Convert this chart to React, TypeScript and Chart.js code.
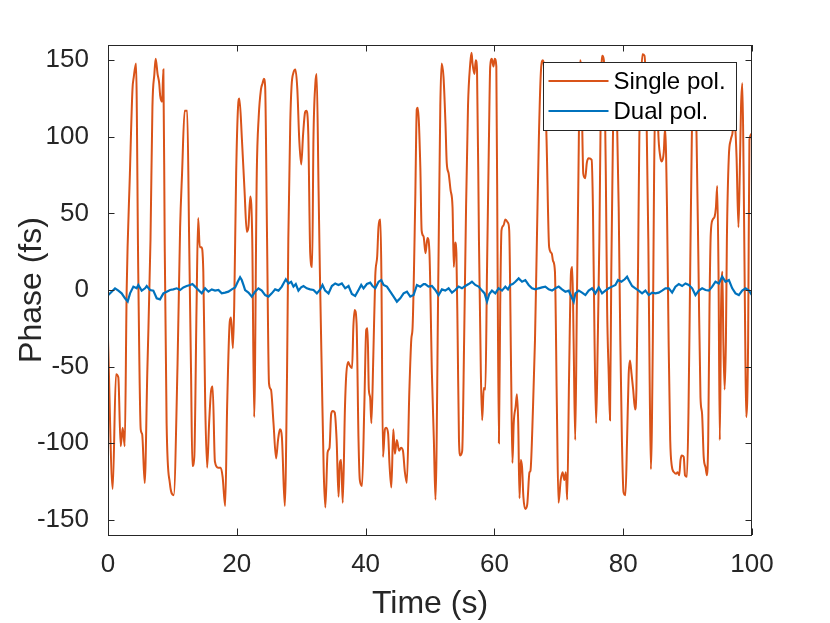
import { useEffect, useRef } from "react";
import { Chart, registerables } from "chart.js";
import type { Plugin } from "chart.js";

Chart.register(...registerables);

// [time (s), phase (fs)]
const singlePol: [number, number][] = [
  [0, -32], [0.73, -130], [1.24, -55], [1.6, -57], [1.97, -102], [2.28, -90], [2.6, -102], [2.9, 0],
  [3.4, 76], [3.8, 131], [4.0, 139], [4.35, 148], [4.7, 11], [5.08, -91], [5.3, -94], [5.7, -126],
  [6.1, -54], [6.6, 33], [6.9, 120], [7.2, 141], [7.4, 151], [7.7, 141], [7.95, 135], [8.1, 127],
  [8.4, 123], [8.6, 144], [8.8, 33], [9.1, -87], [9.6, -126], [10.2, -134], [10.8, -48], [11.2, 41],
  [11.5, 76], [11.9, 117], [12.3, 117], [12.6, 33], [12.9, -55], [13.1, -115], [13.4, -109], [13.75, -11],
  [14.0, 47], [14.25, 28], [14.5, 28], [14.8, 12], [15.1, -76], [15.4, -116], [15.7, -87], [16.0, -66],
  [16.25, -63], [16.6, -112], [17.1, -116], [17.5, -116], [17.8, -122], [18.2, -141], [18.5, -76], [18.9, -21],
  [19.1, -18], [19.4, -38], [19.6, -10], [19.9, 76], [20.2, 120], [20.4, 125], [20.8, 98], [21.2, 65],
  [21.55, 38], [21.8, 41], [22.1, 61], [22.4, 33], [22.7, -83], [23.1, 76], [23.4, 113], [23.75, 131],
  [24.0, 135], [24.2, 138], [24.4, 133], [24.7, 33], [25.0, -61], [25.3, -65], [25.7, -87], [26.1, -110],
  [26.4, -98], [26.7, -91], [27.0, -96], [27.45, -141], [27.8, -55], [28.0, 33], [28.3, 109], [28.5, 133],
  [28.8, 142], [29.1, 144], [29.4, 131], [29.7, 98], [30.0, 82], [30.3, 102], [30.6, 116], [30.8, 117],
  [31.1, 102], [31.4, 24], [31.7, 15], [31.9, 98], [32.2, 135], [32.4, 141], [32.7, 65], [32.9, 12],
  [33.2, -55], [33.5, -119], [33.75, -142], [34.1, -106], [34.4, -103], [34.65, -81], [34.9, -79], [35.2, -80],
  [35.5, -98], [35.8, -135], [36.0, -113], [36.2, -111], [36.45, -139], [36.8, -76], [37.0, -55], [37.3, -47],
  [37.5, -49], [37.9, -51], [38.1, -24], [38.3, -13], [38.6, -22], [38.9, -98], [39.1, -124], [39.45, -128],
  [39.8, -76], [40.1, -26], [40.3, -25], [40.5, -65], [40.7, -70], [40.9, -87], [41.2, -43], [41.5, 9],
  [41.8, 22], [42.0, 41], [42.3, 46], [42.45, 11], [42.7, -109], [43.0, -91], [43.2, -90], [43.5, -94],
  [43.7, -113], [44.0, -129], [44.3, -91], [44.55, -107], [44.85, -98], [45.2, -105], [45.5, -103], [45.8, -105],
  [46.1, -119], [46.4, -126], [46.8, -65], [47.1, -32], [47.3, -24], [47.7, 56], [47.95, 118], [48.1, 119],
  [48.5, 80], [48.7, 39], [49.0, 35], [49.3, 24], [49.6, 34], [49.9, 26], [50.3, -55], [50.6, -98],
  [50.85, -137], [51.3, 12], [51.6, 120], [51.8, 148], [52.1, 139], [52.4, 109], [52.6, 83], [52.9, 76],
  [53.2, 65], [53.5, 54], [53.7, 15], [53.9, 31], [54.1, 24], [54.3, -33], [54.5, -98], [54.7, -108],
  [55.0, -105], [55.3, -33], [55.6, 54], [55.9, 120], [56.25, 148], [56.45, 155], [56.6, 148], [56.9, 141],
  [57.1, 150], [57.3, 144], [57.6, 33], [57.9, -55], [58.1, -85], [58.35, -64], [58.6, -65], [58.85, 12],
  [59.15, 98], [59.35, 146], [59.6, 151], [59.85, 146], [60.05, 151], [60.3, 146], [60.5, 12], [60.7, -100],
  [60.9, -11], [61.1, 39], [61.4, 42], [61.7, 46], [62.1, 44], [62.3, 39], [62.6, -55], [62.8, -113],
  [63.0, -87], [63.3, -76], [63.5, -68], [63.7, -87], [63.9, -136], [64.1, -111], [64.3, -116], [64.5, -135],
  [64.8, -143], [65.1, -140], [65.45, -119], [65.6, -118], [66.0, -76], [66.3, -33], [66.6, 33], [66.9, 98],
  [67.2, 141], [67.5, 150], [67.8, 140], [68.1, 98], [68.5, 28], [68.9, 24], [69.1, 19], [69.4, 12],
  [69.7, -76], [69.95, -139], [70.3, -124], [70.6, -119], [70.85, -124], [71.1, -119], [71.3, -137], [71.6, -55],
  [71.9, 12], [72.1, 15], [72.3, -33], [72.55, -98], [72.8, -11], [73.05, 76], [73.3, 150], [73.5, 140],
  [73.8, 76], [74.1, 73], [74.35, 83], [74.65, 86], [75.1, 85], [75.3, 54], [75.55, -33], [75.8, -87],
  [76.05, -33], [76.3, 33], [76.55, 131], [76.75, 153], [77.0, 150], [77.3, 76], [77.5, -11], [77.75, -55],
  [77.95, -85], [78.15, 12], [78.4, 98], [78.6, 141], [78.8, 148], [79.0, 120], [79.3, 54], [79.55, -33],
  [79.8, -98], [80.05, -132], [80.35, -134], [80.6, -98], [80.85, -55], [81.05, -46], [81.3, -55], [81.55, -65],
  [81.85, -78], [82.05, -65], [82.3, 12], [82.5, 98], [82.8, 141], [83.0, 154], [83.3, 153], [83.6, 120],
  [83.9, 33], [84.1, -55], [84.3, -117], [84.6, -33], [84.8, 76], [85.1, 141], [85.5, 98], [85.8, 86],
  [86.0, 84], [86.3, 90], [86.5, 106], [86.8, 54], [87.05, -33], [87.3, -98], [87.55, -115], [87.9, -119],
  [88.2, -120], [88.45, -119], [88.7, -121], [88.9, -111], [89.1, -108], [89.4, -109], [89.6, -121], [89.9, -122],
  [90.15, -76], [90.4, 12], [90.65, 98], [90.9, 141], [91.1, 145], [91.4, 98], [91.7, 12], [92.0, -70],
  [92.25, -81], [92.5, -109], [92.8, -116], [93.0, -121], [93.2, -98], [93.4, -11], [93.6, 37], [93.9, 46],
  [94.2, 48], [94.4, 54], [94.6, 68], [94.8, 12], [95.0, -98], [95.2, -11], [95.4, 12], [95.55, -33],
  [95.75, -65], [95.95, -33], [96.1, 33], [96.4, 87], [96.7, 98], [96.95, 102], [97.2, 110], [97.4, 106],
  [97.6, 87], [97.9, 41], [98.1, 76], [98.3, 120], [98.5, 135], [98.7, 76], [98.95, -33], [99.1, -83],
  [99.4, -33], [99.6, 98], [100, 102],
];

const dualPol: [number, number][] = [
  [0.05, -3.3], [0.57, -1.1], [1.09, 1.1], [1.61, -0.4], [2.12, -2.2], [2.64, -5.4], [3.06, -7.5], [3.42, -2.2],
  [3.94, 2.2], [4.45, 1.1], [4.71, 3.3], [5.23, -0.4], [5.75, 1.1], [6.01, 2.6], [6.53, 0], [7.04, -0.4],
  [7.56, -5.4], [8.08, -6.1], [8.6, -2.2], [9.12, -1.1], [9.63, 0], [10.15, 0.4], [10.67, 1.1], [11.19, 0],
  [11.71, 1.7], [12.22, 2.6], [12.74, 3.3], [13.11, 3.9], [13.52, 2.2], [14.04, 0], [14.56, -2.2], [15.07, 1.1],
  [15.59, -1.1], [16.11, 0.4], [16.63, -0.4], [17.15, 0], [17.66, -2.2], [18.18, -1.7], [18.7, -1.1], [19.22, 0.4],
  [19.74, 1.7], [20.15, 5.4], [20.51, 8.3], [20.77, 6.5], [21.03, 3.3], [21.29, 0], [21.81, -1.7], [22.33, -4.3],
  [22.84, -1.1], [23.36, 1.1], [23.88, -0.4], [24.4, -3.3], [24.92, -4.3], [25.43, -2.2], [25.95, 0.4], [26.47, -0.4],
  [26.99, 2.2], [27.25, 4.3], [27.61, 7.0], [28.02, 4.3], [28.44, 5.4], [28.8, 2.2], [29.16, 3.9], [29.57, -0.4],
  [29.99, 1.7], [30.36, 2.6], [30.87, 1.1], [31.39, 0.4], [31.91, 0], [32.43, -2.2], [32.95, 0.4], [33.31, 3.3],
  [33.72, -0.4], [34.24, -2.2], [34.76, 2.6], [35.28, 4.3], [35.79, 3.3], [36.31, 4.3], [36.83, 1.1], [37.35, 2.6],
  [37.87, -2.6], [38.38, -3.9], [38.9, 0], [39.32, 3.3], [39.68, 1.1], [40.2, 3.9], [40.72, 4.8], [41.08, 2.6],
  [41.5, 1.1], [42.02, 5.4], [42.43, 6.5], [42.79, 3.3], [43.31, 2.2], [43.83, -1.1], [44.35, -4.3], [44.86, -7.6],
  [45.38, -5.4], [45.9, -2.2], [46.42, -1.1], [46.94, -4.3], [47.45, -3.3], [47.97, 3.3], [48.49, 2.2], [49.01, 3.9],
  [49.26, 3.9], [49.78, 2.2], [50.3, 2.6], [50.82, 0], [51.33, -3.3], [51.85, 0.4], [52.37, -0.4], [52.89, 1.1],
  [53.41, -1.7], [53.92, 0], [54.44, 2.2], [54.96, 1.1], [55.48, 2.6], [56.0, 3.9], [56.51, 5.4], [57.03, 3.3],
  [57.55, 2.2], [58.07, -0.4], [58.48, -2.2], [58.85, -7.6], [59.21, -2.6], [59.62, -0.4], [60.14, -2.2], [60.66, 1.1],
  [61.18, -0.4], [61.7, 2.2], [62.11, 0.4], [62.47, 3.3], [62.84, 3.9], [63.25, 5.4], [63.77, 7.6], [64.29, 5.4],
  [64.8, 6.5], [65.32, 3.3], [65.84, 1.1], [66.36, 0.4], [66.88, 1.1], [67.4, 1.7], [67.91, 2.2], [68.43, 0.4],
  [68.95, -0.4], [69.47, 1.1], [69.99, 2.2], [70.5, 0.4], [71.02, -1.1], [71.54, -0.4], [72.06, -5.4], [72.32, -7.6],
  [72.58, -2.2], [73.1, -0.4], [73.61, -1.7], [74.13, -3.3], [74.64, -0.4], [75.16, 1.1], [75.68, -2.2], [76.2, 1.7],
  [76.72, -2.2], [77.23, -0.4], [77.75, 1.1], [78.27, 2.2], [78.79, 3.3], [79.2, 6.5], [79.72, 5.4], [80.24, 7.0],
  [80.6, 8.7], [80.86, 6.5], [81.38, 2.6], [81.89, 1.1], [82.41, -0.4], [82.93, -2.2], [83.45, -0.4], [83.97, -3.3],
  [84.49, -1.7], [85.0, -2.2], [85.52, -1.7], [86.04, -0.4], [86.56, 1.1], [87.08, 1.1], [87.6, -1.7], [88.11, 2.2],
  [88.63, 3.9], [89.15, 2.6], [89.67, 4.3], [90.19, 3.3], [90.71, 1.1], [91.22, -3.3], [91.74, -0.4], [92.26, 1.1],
  [92.78, 0], [93.3, -0.4], [93.82, 2.2], [94.33, 5.4], [94.85, 4.3], [95.37, 8.7], [95.89, 5.4], [96.41, 6.5],
  [96.93, 1.1], [97.44, -2.2], [97.96, -3.3], [98.48, -0.4], [99.0, 1.1], [99.52, -0.4], [100, -3.3],
];

const seriesLabels = ["Single pol.", "Dual pol."];
const seriesColors = ["#D95319", "#0072BD"];
const xTicks = [0, 20, 40, 60, 80, 100];
const yTicks = [-150, -100, -50, 0, 50, 100, 150];

const FONT = "'Liberation Sans', Arial, Helvetica, sans-serif";
const AXIS = "#262626";

// MATLAB style box with inward ticks on all four sides
const boxPlugin: Plugin<"line"> = {
  id: "box",
  afterDatasetsDraw(chart) {
    const { ctx, chartArea: a, scales } = chart;
    const len = 6.5;
    ctx.save();
    ctx.strokeStyle = AXIS;
    ctx.lineWidth = 1;
    ctx.strokeRect(Math.round(a.left) + 0.5, Math.round(a.top) + 0.5, Math.round(a.right - a.left) - 1, Math.round(a.bottom - a.top));
    ctx.beginPath();
    xTicks.forEach((v) => {
      const px = Math.round(scales.x.getPixelForValue(v)) + 0.5;
      ctx.moveTo(px, a.bottom);
      ctx.lineTo(px, a.bottom - len);
      ctx.moveTo(px, a.top);
      ctx.lineTo(px, a.top + len);
    });
    yTicks.forEach((v) => {
      const py = Math.round(scales.y.getPixelForValue(v)) + 0.5;
      ctx.moveTo(a.left, py);
      ctx.lineTo(a.left + len, py);
      ctx.moveTo(a.right, py);
      ctx.lineTo(a.right - len, py);
    });
    ctx.stroke();

    // legend box, top right inside the axes
    const w = 193;
    const h = 68;
    const left = Math.round(a.right - 16 - w) + 0.5;
    const top = Math.round(a.top + 17) + 0.5;
    ctx.fillStyle = "#ffffff";
    ctx.fillRect(left, top, w, h);
    ctx.strokeStyle = AXIS;
    ctx.strokeRect(left, top, w, h);
    ctx.font = `24px ${FONT}`;
    ctx.textBaseline = "middle";
    ctx.textAlign = "left";
    chart.data.datasets.forEach((ds, i) => {
      const y = top + 18.5 + i * 30;
      ctx.strokeStyle = ds.borderColor as string;
      ctx.lineWidth = 2;
      ctx.beginPath();
      ctx.moveTo(left + 5, y);
      ctx.lineTo(left + 65, y);
      ctx.stroke();
      ctx.fillStyle = "#000000";
      ctx.fillText(ds.label ?? "", left + 70, y + 1);
    });
    ctx.restore();
  },
};

export default function App() {
  const canvasRef = useRef<HTMLCanvasElement>(null);
  const chartRef = useRef<Chart | null>(null);

  useEffect(() => {
    if (!canvasRef.current) return;
    if (chartRef.current) chartRef.current.destroy();

    chartRef.current = new Chart(canvasRef.current, {
      type: "line",
      data: {
        datasets: [
          {
            label: seriesLabels[0],
            data: singlePol.map(([x, y]) => ({ x, y })),
            borderColor: seriesColors[0],
            borderWidth: 2,
            pointRadius: 0,
            cubicInterpolationMode: "monotone",
            order: 2,
          },
          {
            label: seriesLabels[1],
            data: dualPol.map(([x, y]) => ({ x, y })),
            borderColor: seriesColors[1],
            borderWidth: 2.2,
            pointRadius: 0,
            tension: 0,
            order: 1,
          },
        ],
      },
      options: {
        responsive: false,
        animation: false,
        devicePixelRatio: 1,
        layout: { padding: { top: 45, right: 78, bottom: 0, left: 0 } },
        plugins: { legend: { display: false }, tooltip: { enabled: false } },
        scales: {
          x: {
            type: "linear",
            min: 0,
            max: 100,
            afterFit: (s) => {
              s.height = 88;
            },
            afterBuildTicks: (s) => {
              s.ticks = xTicks.map((value) => ({ value }));
            },
            grid: { display: false },
            border: { display: false },
            ticks: { color: AXIS, padding: 6, font: { size: 26, family: FONT } },
            title: {
              display: true,
              text: "Time (s)",
              color: AXIS,
              font: { size: 32, family: FONT },
              padding: { top: 0, bottom: 0 },
            },
          },
          y: {
            type: "linear",
            min: -160,
            max: 160,
            afterFit: (s) => {
              s.width = 108;
            },
            afterBuildTicks: (s) => {
              s.ticks = yTicks.map((value) => ({ value }));
            },
            grid: { display: false },
            border: { display: false },
            ticks: { color: AXIS, padding: 11, font: { size: 26, family: FONT } },
            title: {
              display: true,
              text: "Phase (fs)",
              color: AXIS,
              font: { size: 32, family: FONT },
              padding: { top: 13, bottom: 0 },
            },
          },
        },
      },
      plugins: [boxPlugin],
    });

    return () => {
      if (chartRef.current) {
        chartRef.current.destroy();
        chartRef.current = null;
      }
    };
  }, []);

  return (
    <div style={{ position: "fixed", left: 0, top: 0, width: 830, height: 623, background: "#ffffff" }}>
      <canvas ref={canvasRef} width={830} height={623} />
    </div>
  );
}
